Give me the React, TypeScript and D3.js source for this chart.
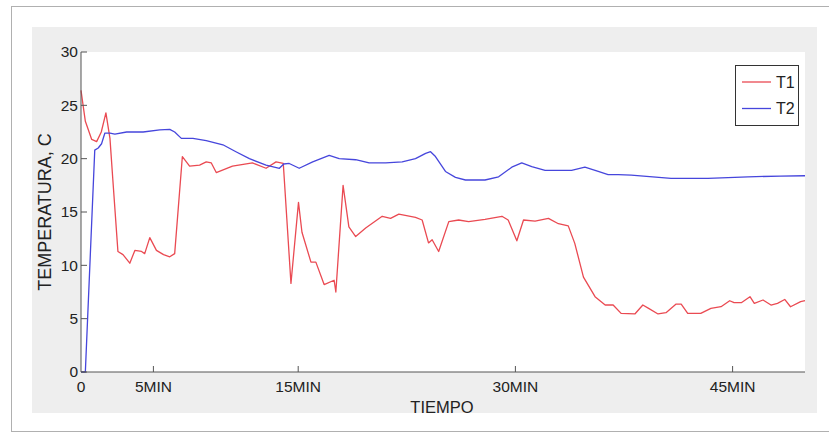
import React from "react";
import * as d3 from "d3";

// time in minutes, temperature in C
const t1Time = [0, 0.3, 0.74, 1.08, 1.4, 1.72, 2.0, 2.2, 2.55, 2.9, 3.37, 3.72, 4.18, 4.4, 4.75, 5.21, 5.7, 6.13, 6.47, 7.0, 7.5, 8.19, 8.65, 9.0, 9.34, 10.46, 11.84, 12.78, 13.47, 13.97, 14.5, 15.02, 15.26, 15.88, 16.22, 16.79, 17.48, 17.6, 18.1, 18.5, 18.97, 19.66, 20.8, 21.38, 21.95, 23.1, 23.56, 24.0, 24.25, 24.7, 25.4, 26.08, 26.77, 27.9, 29.07, 29.5, 30.1, 30.56, 31.36, 32.28, 32.97, 33.65, 34.1, 34.7, 35.5, 36.2, 36.75, 37.3, 38.25, 38.8, 39.2, 39.85, 40.4, 41.1, 41.45, 41.9, 42.8, 43.5, 44.2, 44.8, 45.1, 45.6, 46.2, 46.5, 47.1, 47.65, 48.1, 48.6, 49.0, 49.7, 50.0];
const t1Temp = [26.4, 23.5, 21.8, 21.6, 22.5, 24.3, 21.9, 18.0, 11.3, 11.0, 10.2, 11.4, 11.3, 11.1, 12.6, 11.4, 11.0, 10.8, 11.1, 20.2, 19.3, 19.4, 19.7, 19.6, 18.7, 19.3, 19.6, 19.1, 19.7, 19.55, 8.3, 15.9, 13.1, 10.3, 10.3, 8.2, 8.6, 7.5, 17.5, 13.6, 12.7, 13.5, 14.6, 14.4, 14.8, 14.5, 14.25, 12.1, 12.4, 11.3, 14.1, 14.25, 14.1, 14.3, 14.6, 14.25, 12.3, 14.25, 14.15, 14.4, 13.9, 13.7, 12.06, 8.9, 7.06, 6.28, 6.28, 5.5, 5.44, 6.28, 5.97, 5.44, 5.56, 6.37, 6.37, 5.5, 5.5, 5.97, 6.12, 6.68, 6.5, 6.5, 7.06, 6.44, 6.75, 6.28, 6.44, 6.8, 6.12, 6.6, 6.7];

const t2Time = [0, 0.3, 0.95, 1.19, 1.42, 1.65, 2.0, 2.34, 3.15, 4.29, 5.44, 6.13, 6.47, 6.93, 7.73, 8.65, 9.8, 10.7, 11.63, 12.78, 13.7, 14.0, 14.38, 15.07, 16.0, 17.14, 17.83, 18.97, 19.9, 21.04, 22.18, 23.1, 23.8, 24.14, 24.48, 25.17, 25.86, 26.55, 27.9, 28.84, 29.75, 30.44, 31.13, 32.05, 33.88, 34.8, 35.72, 36.4, 37.1, 38.0, 40.75, 43.3, 46.06, 48.3, 50.0];
const t2Temp = [0, 0, 20.8, 21.0, 21.4, 22.4, 22.4, 22.3, 22.5, 22.5, 22.7, 22.75, 22.5, 21.9, 21.9, 21.7, 21.3, 20.65, 20.0, 19.4, 19.1, 19.5, 19.55, 19.1, 19.7, 20.3, 20.0, 19.9, 19.6, 19.6, 19.7, 20.0, 20.5, 20.65, 20.2, 18.8, 18.25, 18.0, 18.0, 18.3, 19.2, 19.6, 19.25, 18.9, 18.9, 19.2, 18.8, 18.5, 18.5, 18.46, 18.15, 18.15, 18.3, 18.37, 18.4];

const yTicks = [0, 5, 10, 15, 20, 25, 30];
const xTicks = [0, 5, 15, 30, 45];
const xTickLabels = ["0", "5MIN", "15MIN", "30MIN", "45MIN"];

const seriesNames = ["T1", "T2"];
const seriesColors = ["#ea4a52", "#4646dc"];

const W = 829;
const H = 433;
const plot = { left: 81, right: 805, top: 52, bottom: 372 };
const font = "'Liberation Sans', Arial, sans-serif";

export default function App() {
  const x = d3.scaleLinear().domain([0, 50]).range([plot.left, plot.right]);
  const y = d3.scaleLinear().domain([0, 30]).range([plot.bottom, plot.top]);

  const line = d3
    .line<[number, number]>()
    .x((d) => x(d[0]))
    .y((d) => y(d[1]));

  const series = [
    t1Time.map((t, i) => [t, t1Temp[i]] as [number, number]),
    t2Time.map((t, i) => [t, t2Temp[i]] as [number, number]),
  ];

  const axisColor = "#555";

  return (
    <svg
      width={W}
      height={H}
      style={{ position: "absolute", left: 0, top: 0, background: "#fff" }}
      fontFamily={font}
    >
      {/* outer frame */}
      <rect x={11.5} y={6.5} width={W - 10} height={425} fill="#fff" stroke="#b0b0b0" />
      {/* figure background */}
      <rect x={32} y={27} width={785} height={386} fill="#eeeeee" />
      {/* axes background */}
      <rect
        x={plot.left}
        y={plot.top}
        width={plot.right - plot.left}
        height={plot.bottom - plot.top}
        fill="#fff"
      />

      {/* lines */}
      {series.map((s, i) => (
        <path
          key={i}
          d={line(s) || ""}
          fill="none"
          stroke={seriesColors[i]}
          strokeWidth={1.3}
          strokeLinejoin="round"
        />
      ))}

      {/* axes */}
      <line x1={plot.left} x2={plot.left} y1={plot.top} y2={plot.bottom} stroke={axisColor} />
      <line x1={plot.left} x2={plot.right} y1={plot.bottom} y2={plot.bottom} stroke={axisColor} />

      {yTicks.map((v) => (
        <g key={"y" + v}>
          <line x1={plot.left} x2={plot.left + 6} y1={y(v)} y2={y(v)} stroke={axisColor} />
          <text
            x={plot.left - 3}
            y={y(v)}
            dy="0.35em"
            textAnchor="end"
            fontSize={15.5}
            fill="#222"
          >
            {v}
          </text>
        </g>
      ))}

      {xTicks.map((v, i) => (
        <g key={"x" + v}>
          {v > 0 && (
            <line x1={x(v)} x2={x(v)} y1={plot.bottom} y2={plot.bottom - 6} stroke={axisColor} />
          )}
          <text x={x(v)} y={392} textAnchor="middle" fontSize={15.5} fill="#222">
            {xTickLabels[i]}
          </text>
        </g>
      ))}

      <text x={442} y={413} textAnchor="middle" fontSize={16.5} fill="#222">
        TIEMPO
      </text>
      <text
        transform={`translate(51, 212) rotate(-90)`}
        textAnchor="middle"
        fontSize={18}
        fill="#222"
      >
        TEMPERATURA, C
      </text>

      {/* legend */}
      <g>
        <rect x={735.5} y={65.5} width={63} height={60} fill="#fff" stroke="#333" />
        {seriesNames.map((n, i) => (
          <g key={n}>
            <line
              x1={742}
              x2={771}
              y1={82 + i * 26.5}
              y2={82 + i * 26.5}
              stroke={seriesColors[i]}
              strokeWidth={1.3}
            />
            <text x={776} y={82 + i * 26.5} dy="0.35em" fontSize={16} fill="#222">
              {n}
            </text>
          </g>
        ))}
      </g>
    </svg>
  );
}
